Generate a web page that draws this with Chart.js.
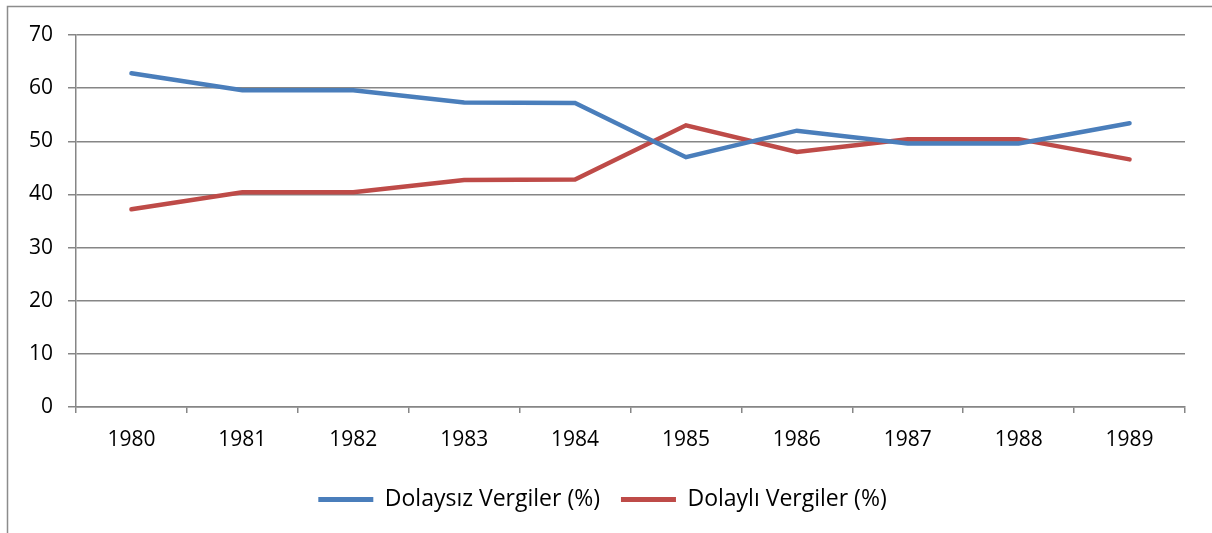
<!DOCTYPE html>
<html lang="tr">
<head>
<meta charset="UTF-8">
<title>Vergiler</title>
<script src="https://cdn.jsdelivr.net/npm/chart.js"></script>
<style>
    body { margin: 0; padding: 0; background: #ffffff; }
    #wrap { width: 1212px; height: 533px; }
</style>
</head>
<body>
<div id="wrap"><canvas id="myChart" width="1212" height="533"></canvas></div>
<script>
    // data
    const years = ['1980', '1981', '1982', '1983', '1984', '1985', '1986', '1987', '1988', '1989'];
    const dolaysiz = [62.8, 59.6, 59.6, 57.3, 57.2, 47.0, 52.0, 49.6, 49.6, 53.4];
    const dolayli = [37.2, 40.4, 40.4, 42.7, 42.8, 53.0, 48.0, 50.4, 50.4, 46.6];
    const yTicks = [0, 10, 20, 30, 40, 50, 60, 70];

    const gridGray = '#868686';

    Chart.defaults.font.family = 'Open Sans';
    Chart.defaults.font.size = 21;
    Chart.defaults.color = '#000';

    // outer frame like the office chart box
    const framePlugin = {
        id: 'frame',
        beforeDraw(chart) {
            const c = chart.ctx;
            c.save();
            c.strokeStyle = '#8c8c8c';
            c.lineWidth = 1.5;
            c.strokeRect(7.5, 6.5, chart.width + 20, chart.height + 20);
            c.restore();
        }
    };

    const ctx = document.getElementById('myChart').getContext('2d');
    new Chart(ctx, {
        type: 'line',
        data: {
            labels: years,
            datasets: [
                {
                    label: 'Dolaysız Vergiler (%)',
                    data: dolaysiz,
                    borderColor: '#4a7ebb',
                    backgroundColor: '#4a7ebb',
                    borderWidth: 4.5,
                    pointRadius: 0,
                    tension: 0,
                    borderCapStyle: 'round'
                },
                {
                    label: 'Dolaylı Vergiler (%)',
                    data: dolayli,
                    borderColor: '#be4b48',
                    backgroundColor: '#be4b48',
                    borderWidth: 4.5,
                    pointRadius: 0,
                    tension: 0,
                    borderCapStyle: 'round'
                }
            ]
        },
        options: {
            responsive: false,
            animation: false,
            layout: { padding: { top: 35, left: 20, right: 27, bottom: 12 } },
            plugins: {
                tooltip: { enabled: false },
                legend: {
                    position: 'bottom',
                    labels: {
                        color: '#000',
                        font: { size: 23 },
                        boxWidth: 55,
                        boxHeight: 5,
                        padding: 21,
                        generateLabels(chart) {
                            return chart.data.datasets.map((ds, i) => ({
                                text: ds.label,
                                fillStyle: ds.borderColor,
                                strokeStyle: ds.borderColor,
                                lineWidth: 0,
                                datasetIndex: i
                            }));
                        }
                    }
                }
            },
            scales: {
                x: {
                    offset: true,
                    grid: {
                        offset: true,
                        drawOnChartArea: false,
                        drawTicks: true,
                        tickLength: 6,
                        color: gridGray,
                        lineWidth: 1.5
                    },
                    border: { color: gridGray, width: 1.5 },
                    ticks: {
                        color: '#000',
                        font: { size: 21 },
                        padding: 14,
                        maxRotation: 0
                    },
                    afterFit(scale) { scale.height = 60; }
                },
                y: {
                    min: 0,
                    max: 70,
                    afterBuildTicks(scale) {
                        scale.ticks = yTicks.map(v => ({ value: v }));
                    },
                    grid: {
                        color: gridGray,
                        lineWidth: 1.5,
                        drawTicks: true,
                        tickLength: 8
                    },
                    border: { color: gridGray, width: 1.5 },
                    ticks: {
                        color: '#000',
                        font: { size: 21 },
                        padding: 15
                    },
                    afterFit(scale) { scale.width = 56; }
                }
            }
        },
        plugins: [framePlugin]
    });
</script>
</body>
</html>
